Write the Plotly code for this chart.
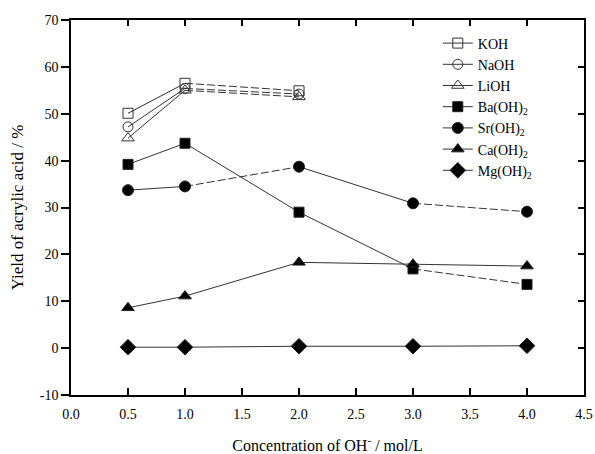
import plotly.graph_objects as go

conc_short = [0.5, 1.0, 2.0]
conc_long = [0.5, 1.0, 2.0, 3.0, 4.0]

koh = [50.1, 56.5, 54.9]
naoh = [47.2, 55.4, 54.2]
lioh = [44.8, 55.0, 53.6]
ba = [39.2, 43.7, 29.0, 16.9, 13.6]
sr = [33.7, 34.5, 38.7, 30.9, 29.1]
ca = [8.6, 11.1, 18.3, 17.9, 17.5]
mg = [0.2, 0.2, 0.4, 0.4, 0.5]

x_ticks = [0.0, 0.5, 1.0, 1.5, 2.0, 2.5, 3.0, 3.5, 4.0, 4.5]
y_ticks = [-10, 0, 10, 20, 30, 40, 50, 60, 70]

series = [
    ("KOH", conc_short, koh, "square-open", ["solid", "dash"], 10),
    ("NaOH", conc_short, naoh, "circle-open", ["solid", "dash"], 10),
    ("LiOH", conc_short, lioh, "triangle-up-open", ["solid", "dash"], 11),
    ("Ba(OH)<sub>2</sub>", conc_long, ba, "square", ["solid", "solid", "solid", "dash"], 10),
    ("Sr(OH)<sub>2</sub>", conc_long, sr, "circle", ["solid", "dash", "solid", "dash"], 11),
    ("Ca(OH)<sub>2</sub>", conc_long, ca, "triangle-up", ["solid", "solid", "solid", "solid"], 11),
    ("Mg(OH)<sub>2</sub>", conc_long, mg, "diamond", ["solid", "solid", "solid", "solid"], 12),
]

LINE = "#333333"
FF = "Liberation Serif"
fig = go.Figure()
for name, xs, ys, sym, dashes, msize in series:
    for i, d in enumerate(dashes):
        fig.add_trace(go.Scatter(x=xs[i:i + 2], y=ys[i:i + 2], mode="lines",
                                 line=dict(color=LINE, width=1, dash="8px,3px" if d == "dash" else "solid"),
                                 showlegend=False, hoverinfo="skip"))
    if sym.endswith("open"):
        mk = dict(symbol=sym, size=msize, color="#333333", line=dict(color="#333333", width=1))
    else:
        mk = dict(symbol=sym, size=msize, color="black", line=dict(color="#222222", width=1))
    fig.add_trace(go.Scatter(x=xs, y=ys, mode="markers", marker=mk, showlegend=False))
    fig.add_trace(go.Scatter(x=[None], y=[None], mode="lines+markers", name=name,
                             marker=mk, line=dict(color=LINE, width=1)))

fig.update_layout(
    width=595, height=454,
    margin=dict(l=71, r=11, t=20, b=59),
    paper_bgcolor="white", plot_bgcolor="white",
    font=dict(family=FF, size=13, color="black"),
    showlegend=True,
    legend=dict(x=0.715, y=0.98, xanchor="left", yanchor="top",
                bgcolor="rgba(0,0,0,0)", font=dict(family=FF, size=14, color="black"),
                tracegroupgap=0, itemwidth=30),
    xaxis=dict(range=[0, 4.5], tickvals=x_ticks, ticktext=[f"{v:.1f}" for v in x_ticks],
               ticks="inside", ticklen=7, tickwidth=1.5, tickcolor="black", ticklabelstandoff=5,
               showline=True, linewidth=1.5, linecolor="black", showgrid=False, zeroline=False,
               automargin=False,
               title=dict(text="Concentration of OH<sup>-</sup> / mol/L",
                          font=dict(family=FF, size=16, color="black"), standoff=24),
               tickfont=dict(family=FF, size=14, color="black")),
    xaxis2=dict(range=[0, 4.5], tickvals=x_ticks, overlaying="x", side="top",
                ticks="inside", ticklen=6, tickwidth=1.5, tickcolor="black", showticklabels=False,
                showline=True, linewidth=1.5, linecolor="black", showgrid=False, zeroline=False,
                automargin=False),
    yaxis=dict(range=[-10, 70], tickvals=y_ticks, ticktext=[str(v) for v in y_ticks],
               ticks="outside", ticklen=8, tickwidth=1.5, tickcolor="black",
               showline=True, linewidth=1.5, linecolor="black", showgrid=False, zeroline=False,
               automargin=False,
               title=dict(text="Yield of acrylic acid / %",
                          font=dict(family=FF, size=17, color="black"), standoff=12),
               tickfont=dict(family=FF, size=14, color="black")),
    yaxis2=dict(range=[-10, 70], tickvals=y_ticks, overlaying="y", side="right",
                ticks="inside", ticklen=6, tickwidth=1.5, tickcolor="black", showticklabels=False,
                showline=True, linewidth=1.5, linecolor="black", showgrid=False, zeroline=False,
                automargin=False),
)
fig.add_trace(go.Scatter(x=[None], y=[None], xaxis="x2", yaxis="y2", showlegend=False))

fig.write_html("out.html", config={"displayModeBar": False},
               post_script="document.body.style.margin='0';")
